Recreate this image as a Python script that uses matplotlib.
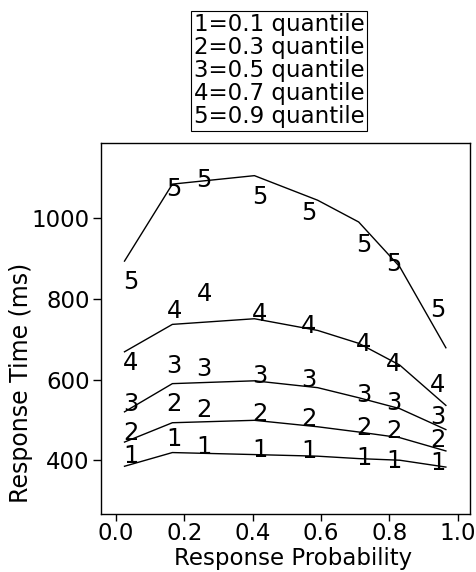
import numpy as np
import matplotlib
matplotlib.use('Agg')
import matplotlib.pyplot as plt

plt.rcParams['font.family'] = ['DejaVu Sans']

# model prediction lines (one per quantile)
line_p = [0.025, 0.165, 0.405, 0.59, 0.71, 0.83, 0.965]
line_q1 = [385, 419, 414, 410, 404, 400, 383]
line_q2 = [445, 493, 499, 483, 470, 456, 423]
line_q3 = [520, 590, 597, 580, 555, 528, 476]
line_q4 = [669, 737, 751, 722, 690, 636, 536]
line_q5 = [894, 1085, 1106, 1045, 991, 880, 679]

# observed data (plotted as quantile digits)
data_p = [0.044, 0.17, 0.258, 0.421, 0.564, 0.725, 0.813, 0.942]
data_q1 = [417, 458, 440, 432, 429, 412, 404, 400]
data_q2 = [474, 545, 532, 520, 508, 487, 479, 456]
data_q3 = [545, 640, 633, 615, 605, 567, 549, 514]
data_q4 = [648, 776, 818, 768, 739, 694, 644, 594]
data_q5 = [849, 1080, 1101, 1058, 1019, 939, 892, 780]

legend_lines = ['1=0.1 quantile', '2=0.3 quantile', '3=0.5 quantile',
                '4=0.7 quantile', '5=0.9 quantile']

fig = plt.figure(figsize=(4.76, 5.72), dpi=100)
ax = fig.add_axes([0.212, 0.101, 0.775, 0.649])

lines = [line_q1, line_q2, line_q3, line_q4, line_q5]
datas = [data_q1, data_q2, data_q3, data_q4, data_q5]
for i in range(5):
    ax.plot(line_p, lines[i], color='black', lw=1.0)
    for x, y in zip(data_p, datas[i]):
        ax.text(x, y, str(i + 1), fontsize=17.5, ha='center', va='center_baseline')

ax.set_xlim(-0.044, 1.035)
ax.set_ylim(266, 1187)
ax.set_xticks([0.0, 0.2, 0.4, 0.6, 0.8, 1.0])
ax.set_xticklabels(['0.0', '0.2', '0.4', '0.6', '0.8', '1.0'])
ax.set_yticks([400, 600, 800, 1000])
ax.tick_params(direction='out', length=5, width=1, labelsize=16.5, pad=1)
ax.tick_params(axis='x', pad=0.5)
ax.tick_params(axis='y', length=6, pad=2)
for s in ax.spines.values():
    s.set_linewidth(1.0)
ax.set_xlabel('Response Probability', fontsize=16.5)
ax.set_ylabel('Response Time (ms)', fontsize=17)
ax.xaxis.set_label_coords(0.52, -0.0875)
ax.yaxis.set_label_coords(-0.184, 0.355)

fig.text(0.586, 0.876, '\n'.join(legend_lines), fontsize=16.5, ha='center',
         va='center', linespacing=1.0,
         bbox=dict(boxstyle='square,pad=0.12', fc='white', ec='black', lw=0.8))

fig.savefig('out.png', dpi=100)
